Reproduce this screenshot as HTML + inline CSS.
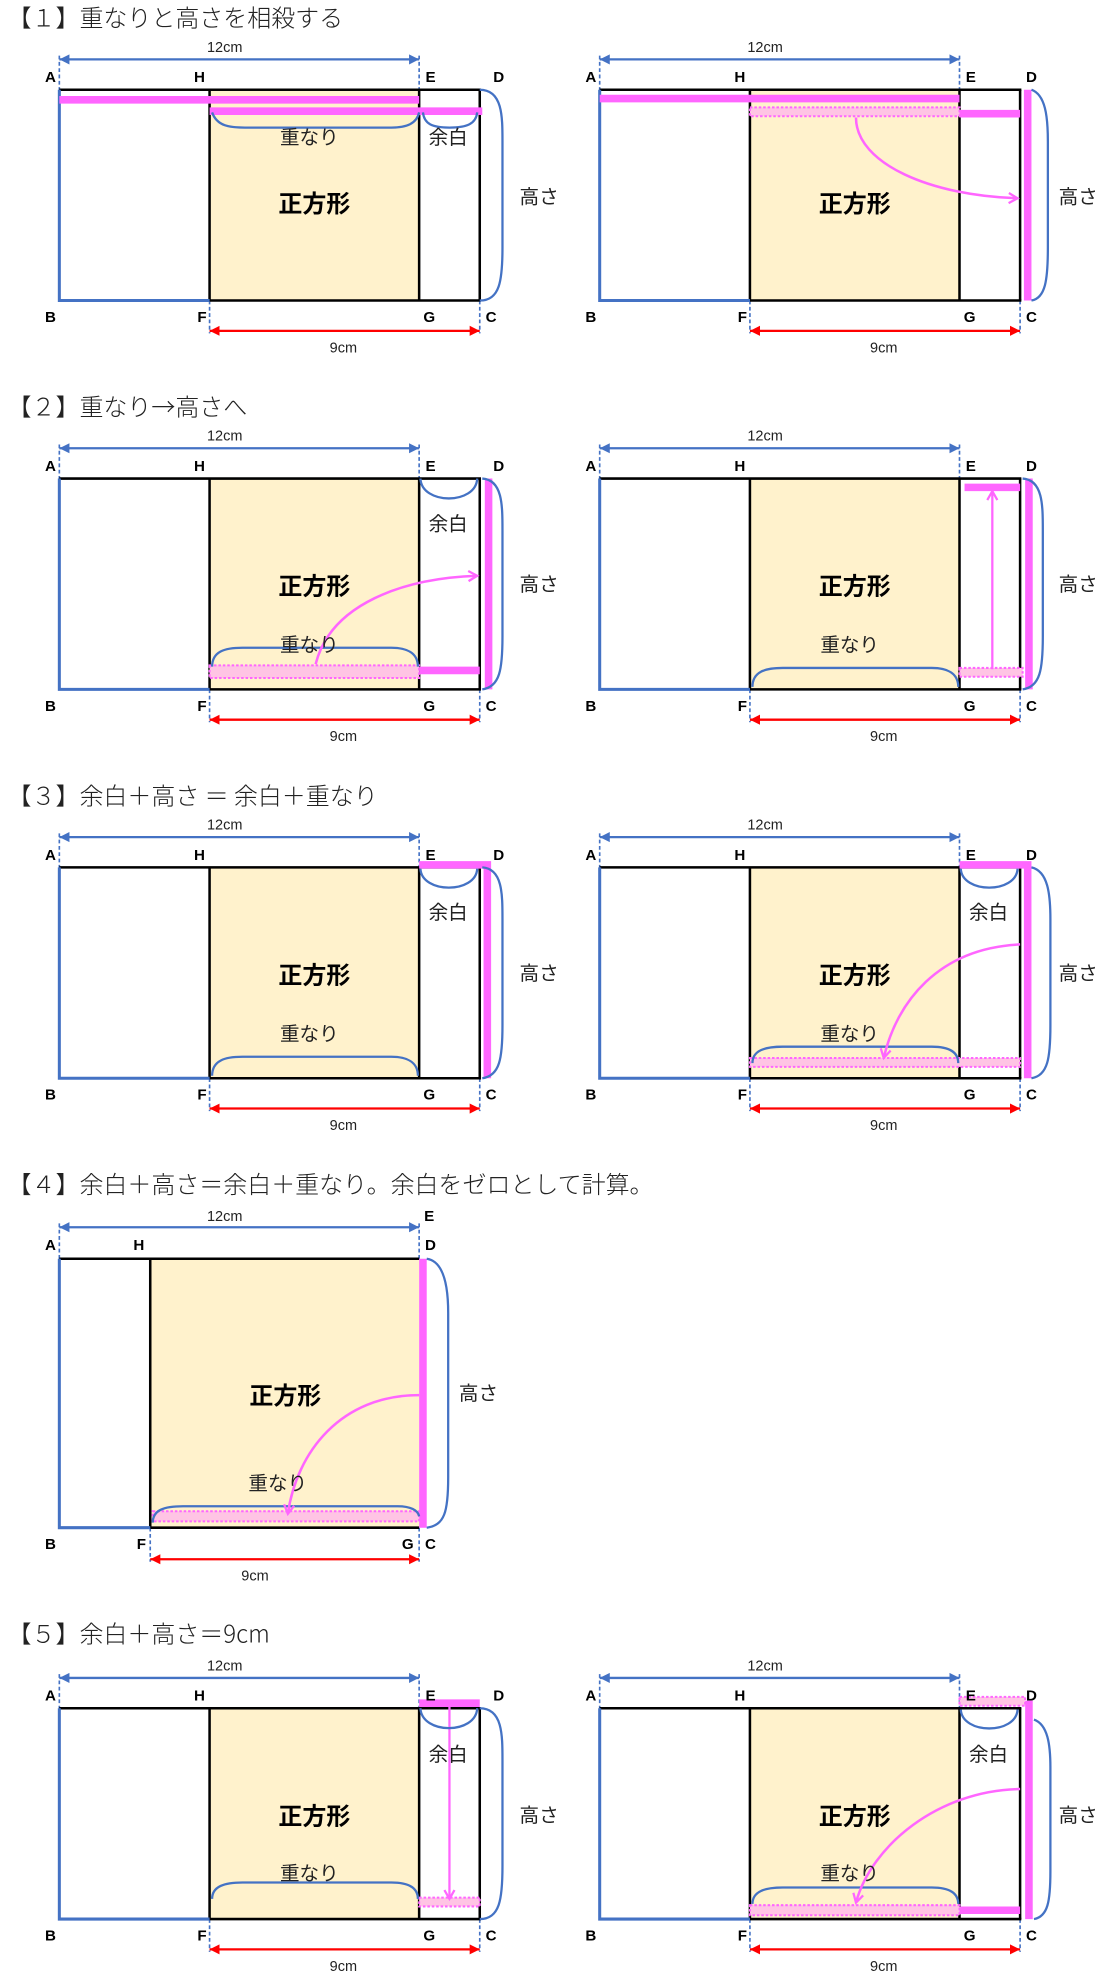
<!DOCTYPE html>
<html><head><meta charset="utf-8"><style>
html,body{margin:0;padding:0;background:#fff;}
svg{display:block;}
text{font-family:"Liberation Sans","Noto Sans CJK JP",sans-serif;}
.t{font-size:19px;fill:#222;font-family:"Noto Sans CJK JP",sans-serif;font-weight:300;}
.l{font-size:12px;font-weight:bold;fill:#000;text-anchor:middle;}
.d{font-size:11.5px;fill:#222;text-anchor:middle;}
.j{font-size:15.5px;fill:#222;text-anchor:middle;}
.s{font-size:19px;font-weight:bold;fill:#000;text-anchor:middle;}
.pk{stroke:#ff66ff;stroke-width:6;fill:none;}
.ar{stroke:#ff66ff;stroke-width:2;fill:none;marker-end:url(#ma);}
.dt{fill:#ffc4e4;stroke:#ff66ff;stroke-width:1.6;stroke-dasharray:2 1.5;}
.br{stroke:#4472c4;stroke-width:1.8;fill:none;}
</style></head><body>
<svg width="1111" height="1981" viewBox="0 0 880 1569" xmlns="http://www.w3.org/2000/svg">
<defs>
<marker id="ma" markerWidth="10" markerHeight="10" refX="8" refY="5" orient="auto" markerUnits="userSpaceOnUse"><path d="M1,1 L8,5 L1,9" fill="none" stroke="#ff66ff" stroke-width="1.8"/></marker>
<marker id="bb" markerWidth="10" markerHeight="10" refX="8" refY="5" orient="auto-start-reverse" markerUnits="userSpaceOnUse"><path d="M0,1 L8,5 L0,9 Z" fill="#4472c4"/></marker>
<marker id="rr" markerWidth="10" markerHeight="10" refX="8" refY="5" orient="auto-start-reverse" markerUnits="userSpaceOnUse"><path d="M0,1 L8,5 L0,9 Z" fill="#ff0000"/></marker>
<g id="b">
<rect x="166" y="71" width="166" height="167" fill="#fff2cc"/>
<line x1="47" y1="47" x2="332" y2="47" stroke="#4472c4" stroke-width="1.8" marker-start="url(#bb)" marker-end="url(#bb)"/>
<g stroke="#4472c4" stroke-width="1.3" stroke-dasharray="3 2">
<line x1="47" y1="44" x2="47" y2="71"/><line x1="332" y1="44" x2="332" y2="71"/>
<line x1="166" y1="238" x2="166" y2="264"/><line x1="380" y1="238" x2="380" y2="264"/>
</g>
<line x1="166" y1="262" x2="380" y2="262" stroke="#ff0000" stroke-width="1.8" marker-start="url(#rr)" marker-end="url(#rr)"/>
<g stroke="#000" stroke-width="2" fill="none">
<line x1="47" y1="71" x2="381" y2="71"/><line x1="166" y1="71" x2="166" y2="238"/>
<line x1="332" y1="71" x2="332" y2="238"/><line x1="380" y1="71" x2="380" y2="238"/>
<line x1="166" y1="238" x2="381" y2="238"/>
</g>
<path d="M47,71 L47,238 L166,238" stroke="#4472c4" stroke-width="2.4" fill="none"/>
</g>
</defs>

<!-- ===== Panel 1 ===== -->
<text class="t" x="6" y="21">【１】重なりと高さを相殺する</text>
<g>
<use href="#b"/>
<path class="pk" d="M47,79 L332,79"/>
<path class="pk" d="M166,88 L382,88"/>
<path class="br" d="M168,89 C172,100 182,101 194,101 L310,101 C322,101 330,98 332,89"/>
<path class="br" d="M335,89 C336,98 342,101 356,101 C370,101 377,98 378,89"/>
<path class="br" d="M380,71 C398,71 398,92 398,112 L398,196 C398,222 396,238 380,238"/>
<text class="j" x="245" y="114">重なり</text>
<text class="j" x="355" y="114">余白</text>
<text class="s" x="249" y="168">正方形</text>
<text class="j" x="427" y="161">高さ</text>
<text class="d" x="178" y="41">12cm</text><text class="d" x="272" y="279">9cm</text>
<text class="l" x="40" y="65">A</text><text class="l" x="158" y="65">H</text><text class="l" x="341" y="65">E</text><text class="l" x="395" y="65">D</text>
<text class="l" x="40" y="255">B</text><text class="l" x="160" y="255">F</text><text class="l" x="340" y="255">G</text><text class="l" x="389" y="255">C</text>
</g>
<g transform="translate(428,0)">
<use href="#b"/>
<path class="pk" d="M47,78 L332,78"/>
<rect class="dt" x="166" y="85" width="166" height="7"/>
<path class="pk" d="M332,90 L380,90"/>
<path class="pk" d="M386,71 L386,238"/>
<path class="br" d="M389,71 C400,75 402,92 402,112 L402,196 C402,222 400,236 389,238"/>
<path class="ar" d="M250,93 C250,130 310,155 378,157"/>
<text class="s" x="249" y="168">正方形</text>
<text class="j" x="426" y="161">高さ</text>
<text class="d" x="178" y="41">12cm</text><text class="d" x="272" y="279">9cm</text>
<text class="l" x="40" y="65">A</text><text class="l" x="158" y="65">H</text><text class="l" x="341" y="65">E</text><text class="l" x="389" y="65">D</text>
<text class="l" x="40" y="255">B</text><text class="l" x="160" y="255">F</text><text class="l" x="340" y="255">G</text><text class="l" x="389" y="255">C</text>
</g>

<!-- ===== Panel 2 ===== -->
<text class="t" x="6" y="329">【２】重なり→高さへ</text>
<g transform="translate(0,308)">
<use href="#b"/>
<rect class="dt" x="166" y="219" width="166" height="10"/>
<path class="pk" d="M332,223 L380,223"/>
<path class="pk" d="M387,71 L387,238"/>
<path class="br" d="M333,71 C334,92 377,92 378,71"/>
<path class="br" d="M168,220 C168,208 178,205 192,205 L310,205 C322,205 331,209 331,220"/>
<path class="br" d="M382,71 C398,72 398,92 398,112 L398,196 C398,222 396,236 382,238"/>
<path class="ar" d="M250,218 C262,170 320,150 378,148"/>
<text class="j" x="245" y="208">重なり</text>
<text class="j" x="355" y="112">余白</text>
<text class="s" x="249" y="163">正方形</text>
<text class="j" x="427" y="160">高さ</text>
<text class="d" x="178" y="41">12cm</text><text class="d" x="272" y="279">9cm</text>
<text class="l" x="40" y="65">A</text><text class="l" x="158" y="65">H</text><text class="l" x="341" y="65">E</text><text class="l" x="395" y="65">D</text>
<text class="l" x="40" y="255">B</text><text class="l" x="160" y="255">F</text><text class="l" x="340" y="255">G</text><text class="l" x="389" y="255">C</text>
</g>
<g transform="translate(428,308)">
<use href="#b"/>
<path class="pk" d="M336,78 L380,78"/>
<rect class="dt" x="332" y="221" width="50" height="7"/>
<path d="M358,222 L358,81" stroke="#ff66ff" stroke-width="1.8" fill="none" marker-end="url(#ma)"/>
<path class="pk" d="M387,71 L387,238"/>
<path class="br" d="M168,236 C168,224 178,221 192,221 L310,221 C322,221 331,225 331,236"/>
<path class="br" d="M382,71 C398,72 398,92 398,112 L398,196 C398,222 396,236 382,238"/>
<text class="j" x="245" y="208">重なり</text>
<text class="s" x="249" y="163">正方形</text>
<text class="j" x="426" y="160">高さ</text>
<text class="d" x="178" y="41">12cm</text><text class="d" x="272" y="279">9cm</text>
<text class="l" x="40" y="65">A</text><text class="l" x="158" y="65">H</text><text class="l" x="341" y="65">E</text><text class="l" x="389" y="65">D</text>
<text class="l" x="40" y="255">B</text><text class="l" x="160" y="255">F</text><text class="l" x="340" y="255">G</text><text class="l" x="389" y="255">C</text>
</g>

<!-- ===== Panel 3 ===== -->
<text class="t" x="6" y="637">【３】余白＋高さ ＝ 余白＋重なり</text>
<g transform="translate(0,616)">
<use href="#b"/>
<path class="pk" d="M332,69 L389,69 M386,69 L386,238"/>
<path class="br" d="M333,72 C334,92 377,92 378,72"/>
<path class="br" d="M168,236 C168,224 178,221 192,221 L310,221 C322,221 331,225 331,236"/>
<path class="br" d="M382,71 C398,72 398,92 398,112 L398,196 C398,222 396,236 382,238"/>
<text class="j" x="245" y="208">重なり</text>
<text class="j" x="355" y="112">余白</text>
<text class="s" x="249" y="163">正方形</text>
<text class="j" x="427" y="160">高さ</text>
<text class="d" x="178" y="41">12cm</text><text class="d" x="272" y="279">9cm</text>
<text class="l" x="40" y="65">A</text><text class="l" x="158" y="65">H</text><text class="l" x="341" y="65">E</text><text class="l" x="395" y="65">D</text>
<text class="l" x="40" y="255">B</text><text class="l" x="160" y="255">F</text><text class="l" x="340" y="255">G</text><text class="l" x="389" y="255">C</text>
</g>
<g transform="translate(428,616)">
<use href="#b"/>
<rect class="dt" x="166" y="222" width="214" height="7"/>
<path class="pk" d="M332,69 L389,69 M386,69 L386,238"/>
<path class="br" d="M333,72 C334,92 377,92 378,72"/>
<path class="br" d="M168,226 C168,216 178,213 192,213 L310,213 C322,213 331,216 331,226"/>
<path class="br" d="M389,71 C402,74 404,92 404,112 L404,196 C404,222 402,236 389,238"/>
<path class="ar" d="M380,132 C315,135 282,178 272,222"/>
<text class="j" x="245" y="208">重なり</text>
<text class="j" x="355" y="112">余白</text>
<text class="s" x="249" y="163">正方形</text>
<text class="j" x="426" y="160">高さ</text>
<text class="d" x="178" y="41">12cm</text><text class="d" x="272" y="279">9cm</text>
<text class="l" x="40" y="65">A</text><text class="l" x="158" y="65">H</text><text class="l" x="341" y="65">E</text><text class="l" x="389" y="65">D</text>
<text class="l" x="40" y="255">B</text><text class="l" x="160" y="255">F</text><text class="l" x="340" y="255">G</text><text class="l" x="389" y="255">C</text>
</g>

<!-- ===== Panel 4 ===== -->
<text class="t" x="6" y="945">【４】余白＋高さ＝余白＋重なり。余白をゼロとして計算。</text>
<g>
<rect x="119" y="997" width="213" height="213" fill="#fff2cc"/>
<line x1="47" y1="972" x2="332" y2="972" stroke="#4472c4" stroke-width="1.8" marker-start="url(#bb)" marker-end="url(#bb)"/>
<g stroke="#4472c4" stroke-width="1.3" stroke-dasharray="3 2">
<line x1="47" y1="969" x2="47" y2="997"/><line x1="332" y1="969" x2="332" y2="997"/>
<line x1="119" y1="1210" x2="119" y2="1237"/><line x1="332" y1="1210" x2="332" y2="1237"/>
</g>
<line x1="119" y1="1235" x2="332" y2="1235" stroke="#ff0000" stroke-width="1.8" marker-start="url(#rr)" marker-end="url(#rr)"/>
<g stroke="#000" stroke-width="2" fill="none">
<line x1="47" y1="997" x2="332" y2="997"/><line x1="119" y1="997" x2="119" y2="1210"/>
<line x1="119" y1="1210" x2="332" y2="1210"/>
</g>
<path d="M47,997 L47,1210 L119,1210" stroke="#4472c4" stroke-width="2.4" fill="none"/>
<rect class="dt" x="121" y="1197" width="211" height="8"/>
<path class="pk" d="M335,997 L335,1210"/>
<path class="br" d="M121,1206 C121,1196 130,1193 145,1193 L315,1193 C325,1193 331,1196 332,1201"/>
<path class="br" d="M338,997 C352,999 355,1020 355,1040 L355,1170 C355,1198 352,1208 338,1210"/>
<path class="ar" d="M332,1105 C270,1105 235,1150 228,1199"/>
<text class="j" x="220" y="1180">重なり</text>
<text class="s" x="226" y="1112">正方形</text>
<text class="j" x="379" y="1109">高さ</text>
<text class="d" x="178" y="967">12cm</text><text class="d" x="202" y="1252">9cm</text>
<text class="l" x="40" y="990">A</text><text class="l" x="110" y="990">H</text><text class="l" x="340" y="967">E</text><text class="l" x="341" y="990">D</text>
<text class="l" x="40" y="1227">B</text><text class="l" x="112" y="1227">F</text><text class="l" x="323" y="1227">G</text><text class="l" x="341" y="1227">C</text>
</g>

<!-- ===== Panel 5 ===== -->
<text class="t" x="6" y="1301">【５】余白＋高さ＝9cm</text>
<g transform="translate(0,1282)">
<use href="#b"/>
<path class="pk" d="M332,67 L380,67"/>
<rect class="dt" x="332" y="221" width="48" height="7"/>
<path d="M356,70 L356,222" stroke="#ff66ff" stroke-width="1.8" fill="none" marker-end="url(#ma)"/>
<path class="br" d="M333,71 C334,92 377,92 378,71"/>
<path class="br" d="M168,222 C168,212 178,209 192,209 L310,209 C322,209 331,212 331,222"/>
<path class="br" d="M380,71 C398,71 398,92 398,112 L398,196 C398,222 396,238 380,238"/>
<text class="j" x="245" y="207">重なり</text>
<text class="j" x="355" y="113">余白</text>
<text class="s" x="249" y="163">正方形</text>
<text class="j" x="427" y="161">高さ</text>
<text class="d" x="178" y="41">12cm</text><text class="d" x="272" y="279">9cm</text>
<text class="l" x="40" y="65">A</text><text class="l" x="158" y="65">H</text><text class="l" x="341" y="65">E</text><text class="l" x="395" y="65">D</text>
<text class="l" x="40" y="255">B</text><text class="l" x="160" y="255">F</text><text class="l" x="340" y="255">G</text><text class="l" x="389" y="255">C</text>
</g>
<g transform="translate(428,1282)">
<use href="#b"/>
<rect class="dt" x="332" y="62" width="52" height="7"/>
<rect class="dt" x="166" y="227" width="166" height="8"/>
<path class="pk" d="M332,231 L380,231"/>
<path class="pk" d="M387,65 L387,238"/>
<path class="br" d="M333,72 C334,92 377,92 378,72"/>
<path class="br" d="M168,226 C168,216 178,213 192,213 L310,213 C322,213 331,216 331,226"/>
<path class="br" d="M391,80 C402,84 404,100 404,118 L404,200 C404,224 402,236 391,238"/>
<path class="ar" d="M380,135 C315,136 262,180 250,225"/>
<text class="j" x="245" y="207">重なり</text>
<text class="j" x="355" y="113">余白</text>
<text class="s" x="249" y="163">正方形</text>
<text class="j" x="426" y="161">高さ</text>
<text class="d" x="178" y="41">12cm</text><text class="d" x="272" y="279">9cm</text>
<text class="l" x="40" y="65">A</text><text class="l" x="158" y="65">H</text><text class="l" x="341" y="65">E</text><text class="l" x="389" y="65">D</text>
<text class="l" x="40" y="255">B</text><text class="l" x="160" y="255">F</text><text class="l" x="340" y="255">G</text><text class="l" x="389" y="255">C</text>
</g>
</svg>
</body></html>
